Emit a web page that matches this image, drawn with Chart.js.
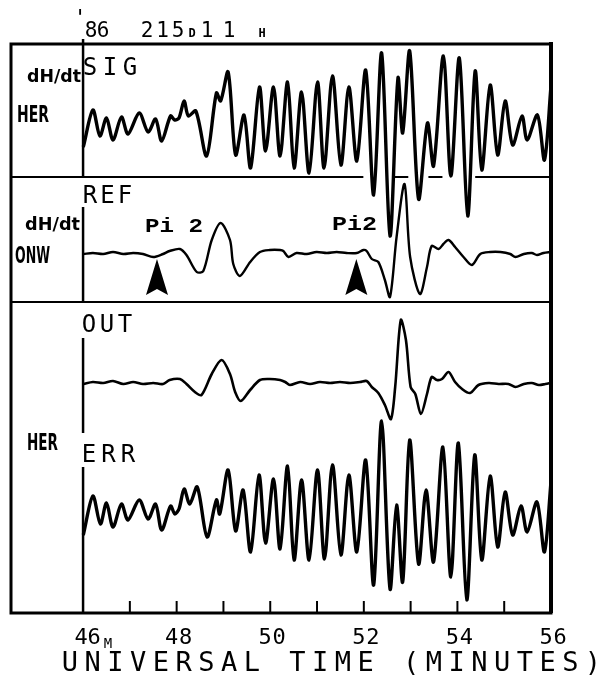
<!DOCTYPE html>
<html>
<head>
<meta charset="utf-8">
<script src="https://cdn.jsdelivr.net/npm/chart.js@4/dist/chart.umd.min.js"></script>
<style>
  html, body { margin: 0; padding: 0; background: #fff; }
  #wrap { width: 601px; height: 684px; }
</style>
</head>
<body>
<div id="wrap"><canvas id="pi2Chart" width="601" height="684"></canvas></div>
<script>
// Time axis (minutes after 11h UT, day 215 of 1986)
const tickMinutes = [46, 48, 50, 52, 54, 56];
const tickLabels = ['46', '48', '50', '52', '54', '56'];
const panelNames = ['SIG', 'REF', 'OUT', 'ERR'];
const onsetTimes = [47.58, 51.84]; // Pi 2 onsets (arrows)

// SIG  dH/dt HER
const sigTime = [46.01, 46.21, 46.36, 46.50, 46.64, 46.82, 46.96, 47.20, 47.39, 47.55, 47.68, 47.87, 47.96, 48.05, 48.16, 48.25, 48.41, 48.64, 48.85, 48.94, 49.10, 49.26, 49.44, 49.58, 49.77, 49.90, 50.07, 50.21, 50.37, 50.51, 50.67, 50.83, 51.01, 51.15, 51.33, 51.51, 51.68, 51.85, 52.04, 52.21, 52.38, 52.56, 52.73, 52.83, 52.98, 53.17, 53.36, 53.49, 53.70, 53.86, 54.04, 54.22, 54.38, 54.52, 54.70, 54.86, 55.02, 55.18, 55.38, 55.49, 55.71, 55.86, 56.00];
const sigValue = [-18, 18, -8, 10, -12, 11, -6, 15, -4, 9, -13, 12, 8, 10, 27, 12, 17, -28, 35, 27, 56, -27, 13, -40, 41, -23, 41, -28, 46, -40, 36, -45, 46, -40, 52, -37, 41, -33, 58, -67, 75, -108, 50, -5, 77, -71, 5, -38, 72, -48, 70, -88, 57, -42, 43, -27, 27, -17, 12, -12, 13, -32, 42];

// REF  dH/dt ONW
const refTime = [46.01, 46.21, 46.43, 46.64, 46.86, 47.07, 47.28, 47.50, 47.71, 47.85, 48.07, 48.21, 48.43, 48.57, 48.75, 48.94, 49.14, 49.21, 49.35, 49.57, 49.78, 49.99, 50.21, 50.28, 50.39, 50.56, 50.78, 50.99, 51.21, 51.42, 51.63, 51.85, 51.99, 52.06, 52.17, 52.31, 52.45, 52.56, 52.70, 52.87, 52.99, 53.20, 53.35, 53.45, 53.60, 53.70, 53.81, 53.95, 54.13, 54.31, 54.49, 54.70, 54.92, 55.13, 55.24, 55.42, 55.59, 55.70, 55.84, 56.00];
const refValue = [-1, 0, -1, 1, -1, 0, -1, -4, -1, 2, 4, -2, -19, -18, 13, 30, 13, -11, -23, -9, 1, 3, 3, 2, -4, 0, -1, 1, 0, 1, 0, 0, 3, 2, -6, -9, -27, -44, 16, 69, -4, -41, -14, 7, 4, 9, 13, 6, -4, -12, -1, 1, 1, -1, -4, -1, 0, -2, 0, 1];

// OUT  filter output HER
const outTime = [46.01, 46.21, 46.43, 46.64, 46.86, 47.07, 47.28, 47.50, 47.71, 47.85, 48.07, 48.21, 48.39, 48.53, 48.75, 48.96, 49.14, 49.25, 49.37, 49.57, 49.78, 49.99, 50.21, 50.32, 50.42, 50.64, 50.85, 51.06, 51.28, 51.49, 51.71, 51.92, 52.06, 52.17, 52.31, 52.45, 52.58, 52.67, 52.79, 52.90, 53.00, 53.10, 53.22, 53.35, 53.45, 53.56, 53.67, 53.81, 53.95, 54.10, 54.27, 54.45, 54.67, 54.88, 55.09, 55.24, 55.42, 55.59, 55.74, 55.88, 56.00];
const outValue = [-1, 1, 0, 2, -1, 1, -1, 0, -1, 3, 4, -1, -9, -12, 9, 23, 9, -9, -18, -7, 3, 4, 3, 1, -2, 1, -1, 1, 0, 1, 0, 1, 2, -4, -10, -22, -36, -4, 63, 43, -4, -11, -31, -11, 6, 3, 4, 11, 1, -6, -10, -2, 0, -1, -1, -4, -1, 0, -2, -1, 0];

// ERR  residual HER
const errTime = [46.01, 46.21, 46.37, 46.50, 46.64, 46.82, 46.96, 47.20, 47.39, 47.55, 47.68, 47.87, 47.96, 48.05, 48.16, 48.28, 48.44, 48.65, 48.85, 48.92, 49.10, 49.26, 49.42, 49.58, 49.76, 49.90, 50.07, 50.21, 50.37, 50.51, 50.67, 50.83, 51.01, 51.16, 51.33, 51.51, 51.68, 51.85, 52.04, 52.21, 52.38, 52.56, 52.70, 52.83, 52.98, 53.17, 53.33, 53.49, 53.69, 53.86, 54.02, 54.20, 54.37, 54.52, 54.70, 54.86, 55.02, 55.18, 55.36, 55.49, 55.70, 55.86, 56.00];
const errValue = [-17, 21, -7, 14, -10, 13, -3, 17, -2, 13, -13, 11, 3, 8, 28, 13, 30, -20, 17, 3, 47, -14, 27, -35, 42, -26, 38, -32, 51, -43, 37, -43, 47, -42, 52, -38, 42, -35, 57, -68, 96, -72, 12, -65, 77, -47, 27, -45, 70, -60, 74, -83, 62, -43, 41, -30, 25, -18, 11, -15, 15, -35, 35];

// layout (y units = px above the bottom frame)
const X_MIN = 44.46, X_MAX = 56;
const Y_MAX = 569;
const BASE = { sig: 485, ref: 360, out: 230, err: 96 };
const DIV_TOP = 436, DIV_MID = 311;

const PLOT = '"DejaVu Sans Mono", "Liberation Mono", monospace';
const BOLD = '"Liberation Sans Narrow", "DejaVu Sans Condensed", sans-serif';
const TYPE = '"Liberation Mono", "Courier New", monospace';

function series(times, values, base) {
    return times.map((t, i) => ({ x: t, y: base + values[i] }));
}

function trace(label, times, values, base, width) {
    return {
        label: label,
        data: series(times, values, base),
        borderColor: '#000',
        borderWidth: width,
        borderJoinStyle: 'round',
        borderCapStyle: 'round',
        pointRadius: 0,
        tension: 0.3,
        fill: false
    };
}

// text squeezed/stretched to the width it has on the plot
function fitText(ctx, str, x, y, w, font) {
    ctx.save();
    ctx.font = font;
    const m = ctx.measureText(str).width;
    ctx.translate(x, y);
    ctx.scale(w / m, 1);
    ctx.fillText(str, 0, 0);
    ctx.restore();
}

// plotter lettering: characters centred on evenly spaced cells
function cellText(ctx, str, cFirst, cLast, y, font) {
    ctx.save();
    ctx.font = font;
    ctx.textAlign = 'center';
    const n = str.length;
    const step = n > 1 ? (cLast - cFirst) / (n - 1) : 0;
    for (let i = 0; i < n; i++) {
        if (str[i] !== ' ') ctx.fillText(str[i], cFirst + i * step, y);
    }
    ctx.restore();
}

const framePlugin = {
    id: 'framePlugin',
    beforeDatasetsDraw(chart) {
        const { ctx, chartArea: a, scales: { x, y } } = chart;
        ctx.save();
        ctx.strokeStyle = '#000';
        ctx.lineWidth = 2;
        // divider SIG / REF, broken where the SIG trace crosses it
        const gaps = [[X_MIN, 51.99], [52.61, 52.95], [53.38, 53.68], [54.38, X_MAX]];
        const yTop = y.getPixelForValue(DIV_TOP);
        gaps.forEach(g => {
            ctx.beginPath();
            ctx.moveTo(x.getPixelForValue(g[0]), yTop);
            ctx.lineTo(x.getPixelForValue(g[1]), yTop);
            ctx.stroke();
        });
        const yMid = y.getPixelForValue(DIV_MID);
        ctx.beginPath();
        ctx.moveTo(a.left, yMid);
        ctx.lineTo(a.right, yMid);
        ctx.stroke();
        ctx.restore();
    },
    afterDatasetsDraw(chart) {
        const { ctx, chartArea: a, scales: { x, y } } = chart;
        ctx.save();
        ctx.strokeStyle = '#000';
        ctx.fillStyle = '#000';

        // outer frame
        ctx.lineWidth = 3;
        ctx.strokeRect(a.left, a.top, a.right - a.left, a.bottom - a.top);
        ctx.lineWidth = 4;
        ctx.beginPath();
        ctx.moveTo(a.right, a.top - 2);
        ctx.lineTo(a.right, a.bottom);
        ctx.stroke();

        // time origin line (46 min), interrupted by panel labels
        const x46 = x.getPixelForValue(46);
        ctx.lineWidth = 2.5;
        [[574, DIV_TOP], [406, DIV_MID], [275, 180], [146, 0]].forEach(s => {
            ctx.beginPath();
            ctx.moveTo(x46, y.getPixelForValue(s[0]));
            ctx.lineTo(x46, y.getPixelForValue(s[1]));
            ctx.stroke();
        });

        // minute ticks pointing inward from the bottom frame
        ctx.lineWidth = 2;
        for (let m = 47; m <= 55; m++) {
            const px = x.getPixelForValue(m);
            ctx.beginPath();
            ctx.moveTo(px, a.bottom);
            ctx.lineTo(px, a.bottom - 12);
            ctx.stroke();
        }

        // Pi 2 onset arrowheads
        onsetTimes.forEach(t => {
            const cx = x.getPixelForValue(t);
            const tip = y.getPixelForValue(354), bot = y.getPixelForValue(318);
            ctx.beginPath();
            ctx.moveTo(cx, tip);
            ctx.lineTo(cx + 11, bot);
            ctx.lineTo(cx, bot - 6);
            ctx.lineTo(cx - 11, bot);
            ctx.closePath();
            ctx.fill();
        });

        // tick labels and axis title
        const tickFont = '22px ' + PLOT;
        tickMinutes.forEach((m, i) => {
            const px = x.getPixelForValue(m);
            if (i === 0) cellText(ctx, tickLabels[i], px - 2, px + 11, 644, tickFont);
            else cellText(ctx, tickLabels[i], px - 5, px + 9, 644, tickFont);
        });
        cellText(ctx, 'M', x46 + 25, x46 + 25, 648, '14px ' + PLOT);
        cellText(ctx, 'UNIVERSAL TIME (MINUTES)', 70, 593, 671, '27px ' + PLOT);

        // header
        cellText(ctx, "'", 80, 80, 25, '22px ' + PLOT);
        cellText(ctx, '86', 91, 103, 37, '21px ' + PLOT);
        cellText(ctx, '215', 147, 178, 37, '21px ' + PLOT);
        cellText(ctx, 'D', 192, 192, 37, 'bold 12px ' + PLOT);
        cellText(ctx, '11', 207, 229, 37, '21px ' + PLOT);
        cellText(ctx, 'H', 262, 262, 37, 'bold 12px ' + PLOT);

        // panel names
        const nameY = [75, 203, 332, 462];
        const nameC = [[90, 130], [90, 125], [89, 125], [89, 128]];
        panelNames.forEach((n, i) => {
            cellText(ctx, n, nameC[i][0], nameC[i][1], nameY[i], '24px ' + PLOT);
        });

        // station / component labels
        fitText(ctx, 'dH/dt', 27, 82, 54, 'bold 17px ' + BOLD);
        fitText(ctx, 'HER', 17, 122, 32, 'bold 23px ' + BOLD);
        fitText(ctx, 'dH/dt', 25, 230, 55, 'bold 17px ' + BOLD);
        fitText(ctx, 'ONW', 15, 263, 35, 'bold 23px ' + BOLD);
        fitText(ctx, 'HER', 27, 450, 31, 'bold 23px ' + BOLD);

        // event markers
        fitText(ctx, 'Pi 2', 145, 232, 58, 'bold 21px ' + TYPE);
        fitText(ctx, 'Pi2', 332, 230, 45, 'bold 21px ' + TYPE);

        ctx.restore();
    }
};

new Chart(document.getElementById('pi2Chart'), {
    type: 'line',
    data: {
        datasets: [
            trace('SIG', sigTime, sigValue, BASE.sig, 3.4),
            trace('REF', refTime, refValue, BASE.ref, 2.4),
            trace('OUT', outTime, outValue, BASE.out, 2.6),
            trace('ERR', errTime, errValue, BASE.err, 3.4)
        ]
    },
    options: {
        responsive: false,
        devicePixelRatio: 1,
        animation: false,
        layout: { padding: { left: 11, top: 44, right: 50, bottom: 71 } },
        scales: {
            x: { type: 'linear', min: X_MIN, max: X_MAX, display: false },
            y: { type: 'linear', min: 0, max: Y_MAX, display: false }
        },
        plugins: {
            legend: { display: false },
            tooltip: { enabled: false }
        }
    },
    plugins: [framePlugin]
});
</script>
</body>
</html>
